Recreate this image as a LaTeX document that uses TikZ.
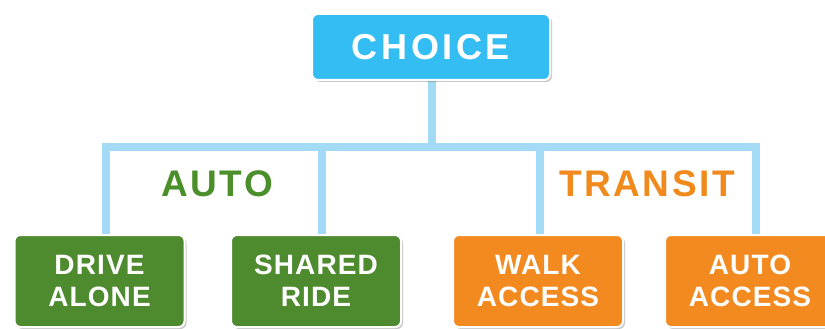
\documentclass[tikz,border=0pt]{standalone}
\usepackage{fontspec}
\setmainfont{Liberation Sans}[BoldFont={Liberation Sans Bold}]
\usetikzlibrary{shadows,backgrounds}
\definecolor{boxblue}{HTML}{33BDF2}
\definecolor{connblue}{HTML}{A3DAF6}
\definecolor{boxgreen}{HTML}{4E8A2E}
\definecolor{txtgreen}{HTML}{4B8F2A}
\definecolor{boxorange}{HTML}{F38A1F}
\definecolor{txtorange}{HTML}{F08A1C}
\tikzset{
  basebox/.style={draw=white, line width=2pt, rounded corners=6pt, text=white,
    align=center, inner sep=0pt,
    drop shadow={shadow xshift=2pt, shadow yshift=-2pt, opacity=0.35, fill=black!60}},
  topbox/.style={basebox, fill=boxblue, minimum width=238pt, minimum height=66pt,
    font=\bfseries\fontsize{36}{40}\selectfont\addfontfeature{LetterSpace=10}},
  leafbox/.style={basebox, minimum width=170pt, minimum height=92pt,
    font=\bfseries\fontsize{28}{31.7}\selectfont\addfontfeature{LetterSpace=4}},
  greenbox/.style={leafbox, fill=boxgreen},
  orangebox/.style={leafbox, fill=boxorange},
  grouplabel/.style={font=\bfseries\fontsize{37}{40}\selectfont\addfontfeature{LetterSpace=7}},
  conn/.style={draw=connblue, line width=8pt, line join=miter}
}
\begin{document}
\begin{tikzpicture}[x=1pt,y=-1pt]
\useasboundingbox (0,0) rectangle (825,329);
\node[topbox] (choice) at (431,47) {CHOICE};
\node[greenbox] (drive) at (99.5,281) {DRIVE\\ALONE};
\node[greenbox] (shared) at (316,281) {SHARED\\RIDE};
\node[orangebox] (walk) at (538,281) {WALK\\ACCESS};
\node[orangebox] (autoacc) at (750,281) {AUTO\\ACCESS};
\node[grouplabel, text=txtgreen] (auto) at (217,183.5) {AUTO};
\node[grouplabel, text=txtorange] (transit) at (647,183.5) {TRANSIT};
\coordinate (j) at (432,147);
\coordinate (c1) at (106,147);
\coordinate (c2) at (322,147);
\coordinate (c3) at (540,147);
\coordinate (c4) at (756,147);
\begin{scope}[on background layer]
\fill[white] (0,0) rectangle (825,329);
\draw[conn] (choice.south -| j) -- (j);
\draw[conn] (c1 |- drive.north) -- (c1) -- (c4) -- (c4 |- autoacc.north);
\draw[conn] (c2) -- (c2 |- shared.north);
\draw[conn] (c3) -- (c3 |- walk.north);
\end{scope}
\end{tikzpicture}
\end{document}
